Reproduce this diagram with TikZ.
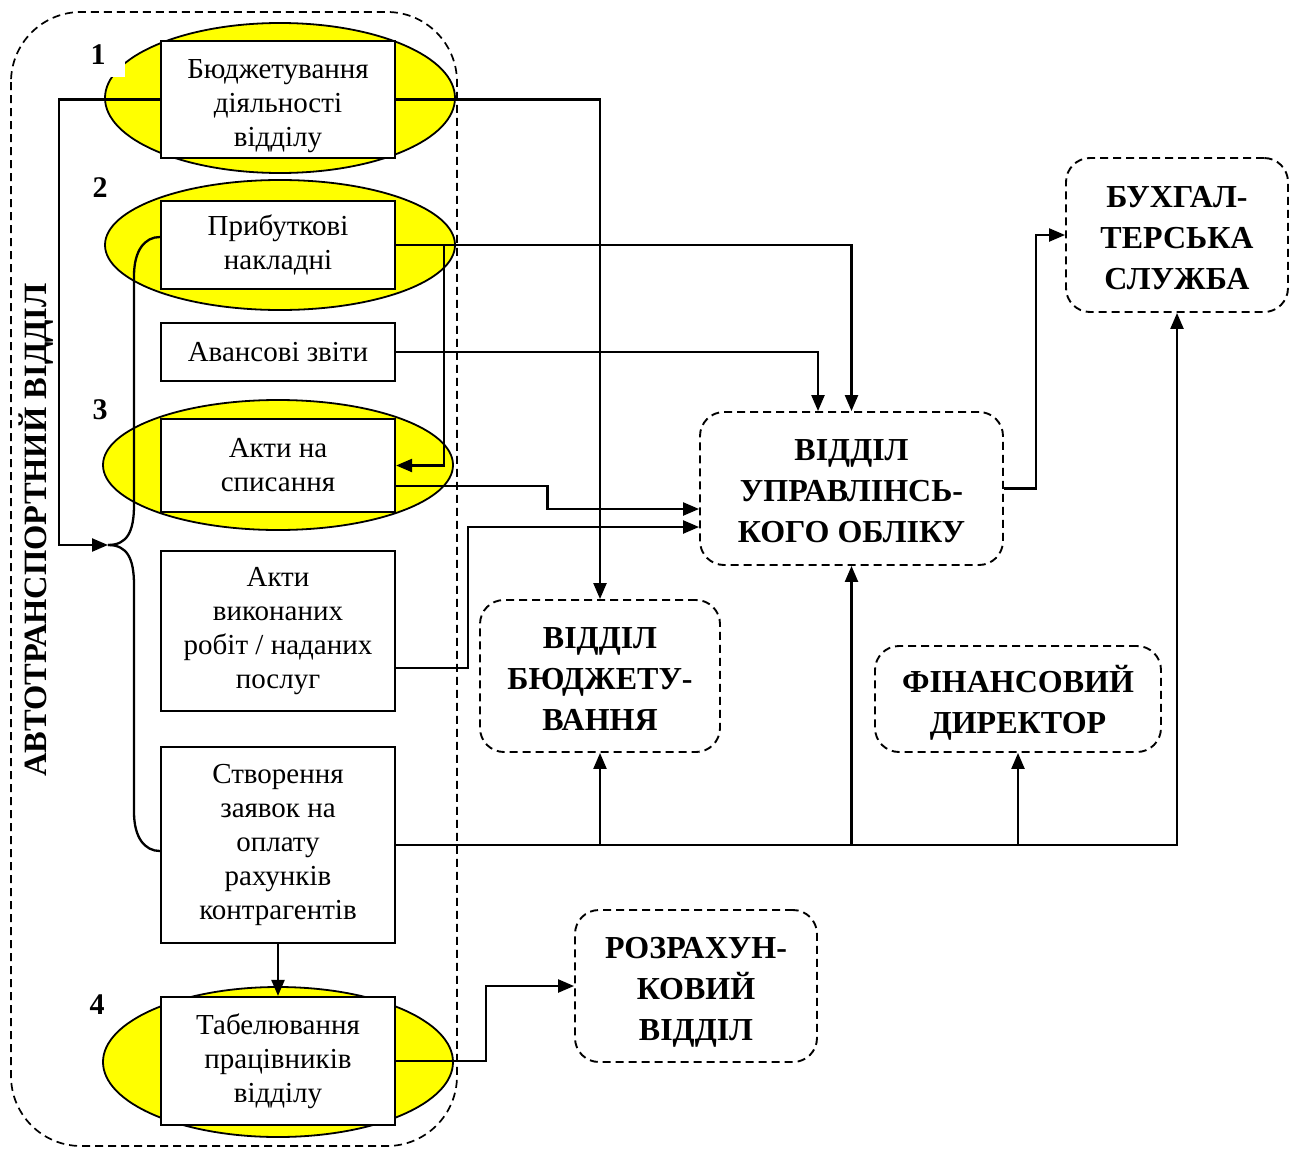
\documentclass[tikz,border=0pt]{standalone}
\usepackage{fontspec}
\setmainfont{Liberation Serif}
\usetikzlibrary{arrows.meta,shapes.geometric,calc}
\definecolor{oval}{RGB}{255,255,0}
\newcommand\mystrut[1]{\rule{0pt}{#1}}
\tikzset{
  docbox/.style={draw,line width=2.2pt,fill=white,inner sep=0pt,align=center,
    minimum width=234pt,font=\fontsize{29}{34}\selectfont},
  oval/.style={ellipse,draw,line width=1.8pt,fill=oval,inner sep=0pt},
  unit/.style={draw,dashed,dash pattern=on 8pt off 5pt,line width=1.9pt,rounded corners=24pt,
    inner sep=0pt,align=center,text depth=0pt,font=\fontsize{32}{41}\selectfont\bfseries},
  num/.style={font=\fontsize{30}{34}\selectfont\bfseries,inner sep=0pt},
  arr/.style={line width=2.3pt,-{Triangle[length=16pt,width=13pt]}},
  link/.style={line width=2.3pt},
}
\begin{document}
\begin{tikzpicture}[x=1pt,y=-1pt]
\useasboundingbox[fill=white] (0,0) rectangle (1295,1148);

% department container
\draw[dashed,dash pattern=on 8pt off 5pt,line width=1.7pt,rounded corners=70pt]
  (11,12) rectangle (457,1146);
\node[rotate=90,font=\fontsize{32.5}{34}\selectfont\bfseries] (dept) at (36,530) {АВТОТРАНСПОРТНИЙ ВІДДІЛ};

% highlighted processes
\node[oval,minimum width=350pt,minimum height=150pt] (e1) at (280,98) {};
\node[oval,minimum width=350pt,minimum height=130pt] (e2) at (280,245) {};
\node[oval,minimum width=350pt,minimum height=130pt] (e3) at (278,465) {};
\node[oval,minimum width=350pt,minimum height=150pt] (e4) at (278,1062) {};

\node[num,fill=white,minimum width=54pt,minimum height=44pt] (n1) at (98,55) {1};
\node[num] (n2) at (100,188) {2};
\node[num] (n3) at (100,410) {3};
\node[num] (n4) at (97,1005) {4};

% documents
\node[docbox,minimum height=117pt] (b1) at (278,99.5) {\mystrut{32pt}Бюджетування\\діяльності\\відділу};
\node[docbox,minimum height=88pt] (b2) at (278,245) {Прибуткові\\накладні};
\node[docbox,minimum height=58pt] (b5) at (278,352) {Авансові звіти};
\node[docbox,minimum height=93pt] (b3) at (278,465.5) {Акти на\\списання};
\node[docbox,minimum height=160pt] (b6) at (278,631) {Акти\\виконаних\\робіт / наданих\\послуг};
\node[docbox,minimum height=196pt] (b7) at (278,845) {Створення\\заявок на\\оплату\\рахунків\\контрагентів};
\node[docbox,minimum height=128pt] (b4) at (278,1061) {Табелювання\\працівників\\відділу};

% receiving units
\node[unit,minimum width=303pt,minimum height=153pt] (vuo) at (851.5,488.5) {\mystrut{26pt}ВІДДІЛ\\УПРАВЛІНСЬ-\\КОГО ОБЛІКУ};
\node[unit,minimum width=222pt,minimum height=154pt] (buh) at (1177,235) {\mystrut{26pt}БУХГАЛ-\\ТЕРСЬКА\\СЛУЖБА};
\node[unit,minimum width=240pt,minimum height=152pt] (vbud) at (600,676) {\mystrut{26pt}ВІДДІЛ\\БЮДЖЕТУ-\\ВАННЯ};
\node[unit,minimum width=286pt,minimum height=106pt] (fin) at (1018,699) {\mystrut{26pt}ФІНАНСОВИЙ\\ДИРЕКТОР};
\node[unit,minimum width=242pt,minimum height=152pt] (rozr) at (696,986) {\mystrut{26pt}РОЗРАХУН-\\КОВИЙ\\ВІДДІЛ};

% flows
\coordinate (br) at (108,545);
\draw[arr] (b1.east) -| (vbud.north);
\draw[arr] (b1.west) -- ++(-101,0) |- (br);
\draw[link] (br) .. controls (127,545) and (134,532) .. (134,505) -- (134,276)
  .. controls (134,250) and (145,237) .. ([yshift=8pt]b2.west);
\draw[link] (br) .. controls (127,545) and (134,558) .. (134,585) -- (134,812)
  .. controls (134,838) and (145,851) .. ([yshift=-6pt]b7.west);
\draw[arr] (b2.east) -| (vuo.north);
\draw[arr] ([xshift=48pt]b2.east) |- (b3.east);
\draw[arr] (b5.east) -| ([xshift=-33.5pt]vuo.north);
\draw[arr] ([yshift=-20.5pt]b3.east) -| ($([yshift=-20.5pt]b3.east)!0.5!([yshift=-20.5pt]vuo.west)$)
  |- ([yshift=-20.5pt]vuo.west);
\draw[arr] ([yshift=-37pt]b6.east) -- ++(72,0) |- ([yshift=-38.5pt]vuo.west);
\draw[arr] (vuo.east) -- ++(32,0) |- (buh.west);
\draw[arr] (b7.east) -| (buh.south);
\draw[arr] (b7.east -| vbud.south) -- (vbud.south);
\draw[arr] (b7.east -| vuo.south) -- (vuo.south);
\draw[arr] (b7.east -| fin.south) -- (fin.south);
\draw[arr] (b7.south) -- (b4.north);
\draw[arr] (b4.east) -- ++(90,0) |- (rozr.west);
\end{tikzpicture}
\end{document}
